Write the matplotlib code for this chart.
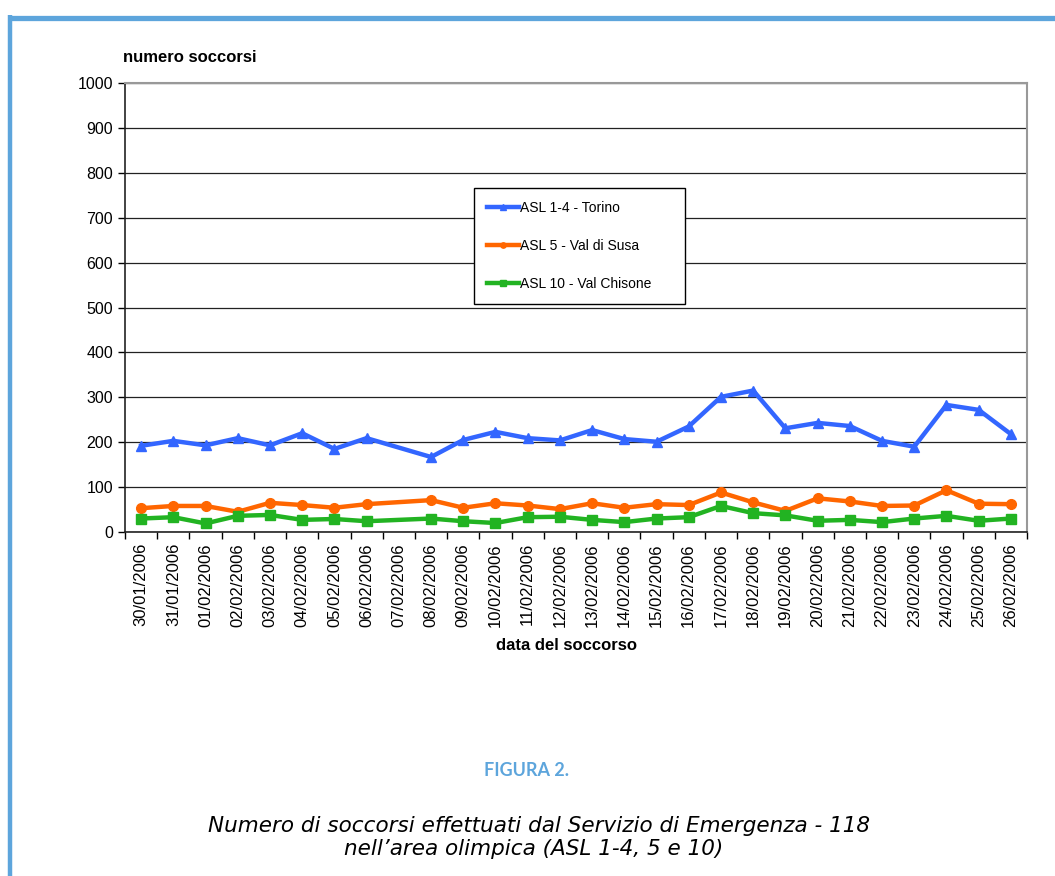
import numpy as np
import pandas as pd
import matplotlib.pyplot as plt
from matplotlib.lines import Line2D

plt.rcParams['font.family'] = ['Liberation Sans', 'DejaVu Sans']

# dati (07/02 senza dato)
date = ['30/01/2006', '31/01/2006', '01/02/2006', '02/02/2006', '03/02/2006',
        '04/02/2006', '05/02/2006', '06/02/2006', '07/02/2006', '08/02/2006',
        '09/02/2006', '10/02/2006', '11/02/2006', '12/02/2006', '13/02/2006',
        '14/02/2006', '15/02/2006', '16/02/2006', '17/02/2006', '18/02/2006',
        '19/02/2006', '20/02/2006', '21/02/2006', '22/02/2006', '23/02/2006',
        '24/02/2006', '25/02/2006', '26/02/2006']
torino = [192, 203, 193, 209, 193, 220, 185, 209, np.nan, 167,
          205, 223, 209, 204, 227, 207, 201, 235, 301, 315,
          231, 243, 236, 203, 190, 283, 272, 218]
susa = [53, 58, 58, 45, 65, 60, 54, 62, np.nan, 71,
        54, 64, 59, 51, 64, 54, 62, 60, 88, 66,
        47, 75, 68, 58, 59, 93, 63, 62]
chisone = [30, 33, 19, 36, 38, 27, 29, 24, np.nan, 30,
           24, 20, 33, 34, 27, 22, 30, 33, 58, 42,
           37, 25, 27, 22, 30, 36, 25, 30]
nomi = ['ASL 1-4 - Torino', 'ASL 5 - Val di Susa', 'ASL 10 - Val Chisone']
colori = ['#3366FF', '#FF6600', '#22B322']
marker = ['^', 'o', 's']

fig = plt.figure(figsize=(10.55, 8.76), dpi=100)
ax = fig.add_axes([125/1055, 1 - 532/876, 902/1055, 449/876])

x = np.arange(len(date))
for serie, nome, c, m in zip([torino, susa, chisone], nomi, colori, marker):
    s = pd.Series(serie, index=x).dropna()
    ax.plot(s.index, s.values, color=c, lw=3.2, marker=m, ms=7, label=nome)

ax.set_xlim(-0.5, len(date) - 0.5)
ax.set_ylim(0, 1000)
ax.set_yticks(range(0, 1001, 100))
ax.yaxis.grid(True, color='#222222', lw=0.9)
ax.set_axisbelow(True)
ax.set_xticks(x)
ax.set_xticklabels(date, rotation=90, fontsize=12)
ax.set_xticks(np.arange(-0.5, len(date)), minor=True)
ax.tick_params(axis='x', which='major', length=0, pad=8)
ax.tick_params(axis='x', which='minor', length=5, width=1)
ax.tick_params(axis='y', labelsize=11.5, length=5, width=1)
for lato in ['left', 'bottom']:
    ax.spines[lato].set_color('#222222')
    ax.spines[lato].set_linewidth(1.2)
for lato in ['top', 'right']:
    ax.spines[lato].set_color('#999999')
    ax.spines[lato].set_linewidth(1.5)

ax.text(-0.002, 1.04, 'numero soccorsi', transform=ax.transAxes,
        fontsize=12, fontweight='bold', ha='left', va='bottom')
fig.text(566/1055, 1 - 645/876, 'data del soccorso', fontsize=12,
         fontweight='bold', ha='center', va='center')

leg = ax.legend(loc='upper left', bbox_to_anchor=(0.387, 0.766, 0.234, 0.0),
                mode='expand', borderaxespad=0, fontsize=10, frameon=True,
                fancybox=False, edgecolor='black', framealpha=1,
                handlelength=2.3, handletextpad=0.1, labelspacing=1.75,
                borderpad=0.9, markerscale=0.55)
leg.get_frame().set_linewidth(1)

# cornice azzurra
blu = '#5DA5DC'
fig.add_artist(Line2D([8/1055, 1], [1 - 17.5/876, 1 - 17.5/876], color=blu,
                      lw=3.8, solid_capstyle='butt'))
fig.add_artist(Line2D([10/1055, 10/1055], [0, 1 - 15/876], color=blu,
                      lw=3.2, solid_capstyle='butt'))

fig.text(527/1055, 1 - 771/876, 'FIGURA 2.', color=blu, fontsize=13,
         fontweight='bold', ha='center', va='center', family=['Lato', 'DejaVu Sans'])
fig.text(539/1055, 1 - 826/876,
         'Numero di soccorsi effettuati dal Servizio di Emergenza - 118',
         fontsize=15.5, style='italic', ha='center', va='center',
         family=['DejaVu Sans'])
fig.text(534/1055, 1 - 849/876, 'nell\u2019area olimpica (ASL 1-4, 5 e 10)',
         fontsize=15.5, style='italic', ha='center', va='center',
         family=['DejaVu Sans'])

fig.savefig('out.png', dpi=100, facecolor='white')
